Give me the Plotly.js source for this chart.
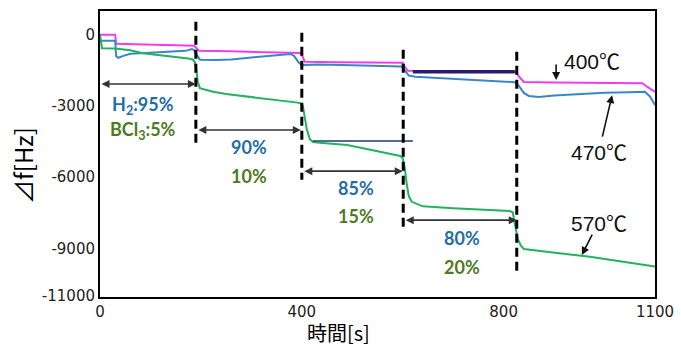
<!DOCTYPE html>
<html>
<head>
<meta charset="utf-8">
<script src="https://cdn.plot.ly/plotly-3.0.1.min.js"></script>
<style>html,body{margin:0;padding:0;background:#fff;}#chart{width:681px;height:347px;}</style>
</head>
<body>
<div id="chart"></div>
<script>
// ---- data ----
const t400 = [0, 30, 32, 60, 120, 187, 191, 196, 260, 330, 397, 401, 406, 470, 540, 600, 604, 610, 700, 780, 824, 830, 840, 900, 980, 1075, 1085, 1100];
const v400 = [0, 0, -380, -400, -430, -465, -560, -680, -700, -730, -770, -900, -1140, -1155, -1170, -1185, -1350, -1520, -1535, -1550, -1570, -1750, -1990, -2010, -2025, -2040, -2200, -2410];

const t470 = [0, 30, 32, 36, 45, 60, 90, 130, 170, 182, 186, 192, 198, 230, 260, 300, 350, 378, 385, 393, 400, 430, 480, 540, 598, 604, 612, 625, 680, 740, 800, 822, 830, 840, 850, 870, 900, 950, 1000, 1050, 1080, 1090, 1100];
const v470 = [-250, -250, -900, -970, -900, -800, -770, -740, -680, -600, -640, -850, -1050, -1065, -1040, -960, -870, -810, -900, -1150, -1280, -1250, -1280, -1310, -1340, -1500, -1720, -1770, -1830, -1900, -1970, -2000, -2150, -2450, -2580, -2620, -2560, -2490, -2440, -2420, -2400, -2600, -2960];

const t570 = [0, 4, 30, 60, 85, 130, 175, 184, 188, 191, 194, 198, 224, 250, 300, 350, 392, 398, 402, 406, 410, 416, 422, 435, 490, 555, 595, 600, 604, 608, 612, 618, 640, 700, 760, 812, 818, 822, 828, 834, 840, 906, 971, 1037, 1100];
const v570 = [0, -570, -580, -650, -780, -880, -1000, -1040, -1150, -1500, -2000, -2250, -2400, -2500, -2620, -2740, -2860, -2900, -3000, -3500, -4000, -4400, -4520, -4550, -4650, -4930, -5110, -5200, -5600, -6300, -6800, -7040, -7230, -7310, -7370, -7430, -7480, -7900, -8600, -8880, -9030, -9200, -9355, -9565, -9770];

// dashed boundaries between gas-ratio stages
const stageTimes = [190, 400, 601, 826];
const stageTop = [550, 80, -630, -720];
const stageBottom = [-4640, -6110, -8150, -10120];

// stage arrows (double headed)
const stageStart = [0, 192, 402, 603];
const stageEnd = [190, 398, 600, 826];
const stageArrowV = [-2078, -4016, -5748, -7813];

// stage text labels
const h2Labels = ['H<sub>2</sub>:95%', '90%', '85%', '80%'];
const bcl3Labels = ['BCl<sub>3</sub>:5%', '10%', '15%', '20%'];
const labelT = [86, 295, 507, 717];
const h2LabelV = [-3000, -4730, -6460, -8570];
const bclLabelV = [-4050, -5950, -7640, -9790];

// extra horizontal marks
const markT = [[422, 620], [620, 822]];
const markV = [[-4480, -4480], [-1560, -1560]];

// temperature labels
const tempLabels = ['400℃', '470℃', '570℃'];
const tempLabelT = [975, 989, 989];
const tempLabelV = [-1108, -4943, -7935];
const tempTipT = [904, 1015, 955];
const tempTipV = [-1909, -2545, -9283];
const tempTailT = [904, 995, 977];
const tempTailV = [-1193, -4357, -8356];

// axis ticks and titles
const xTicks = [0, 400, 800, 1100];
const yTicks = [0, -3000, -6000, -9000, -11000];
const xTitle = '時間[s]';
const yTitle = '⊿f[Hz]';

// ---- build ----
const traces = [
  {x: t400, y: v400, mode: 'lines', line: {color: '#f03cf0', width: 2}, hoverinfo: 'skip'},
  {x: t470, y: v470, mode: 'lines', line: {color: '#3a87c8', width: 2}, hoverinfo: 'skip'},
  {x: t570, y: v570, mode: 'lines', line: {color: '#22b35e', width: 2}, hoverinfo: 'skip'}
];
markT.forEach((mt, i) => {
  traces.push({x: mt, y: markV[i], mode: 'lines', line: {color: i === 0 ? '#1f3a6a' : '#2a1a70', width: i === 0 ? 1.5 : 3.5}, hoverinfo: 'skip'});
});

const shapes = stageTimes.map((st, i) => ({
  type: 'line', xref: 'x', yref: 'y', x0: st, x1: st, y0: stageTop[i], y1: stageBottom[i],
  line: {color: '#000', width: 3, dash: '9px,5px'}
}));

const annotations = [];
stageStart.forEach((s, i) => {
  annotations.push({x: stageEnd[i], y: stageArrowV[i], ax: s, ay: stageArrowV[i], xref: 'x', yref: 'y', axref: 'x', ayref: 'y',
    text: '', showarrow: true, arrowhead: 2, startarrowhead: 2, arrowside: 'end+start', arrowsize: 1, startarrowsize: 1,
    arrowwidth: 1.6, arrowcolor: '#333', standoff: 0, startstandoff: 0});
  annotations.push({x: labelT[i], y: h2LabelV[i], xref: 'x', yref: 'y', text: '<b>' + h2Labels[i] + '</b>', showarrow: false,
    font: {family: 'Lato, "Open Sans", sans-serif', size: 18, color: '#1f6ea6'}});
  annotations.push({x: labelT[i], y: bclLabelV[i], xref: 'x', yref: 'y', text: '<b>' + bcl3Labels[i] + '</b>', showarrow: false,
    font: {family: 'Lato, "Open Sans", sans-serif', size: 18, color: '#4f7a1f'}});
});
tempLabels.forEach((lab, i) => {
  annotations.push({x: tempLabelT[i], y: tempLabelV[i], xref: 'x', yref: 'y', text: lab, showarrow: false,
    font: {family: '"Liberation Sans", Arial, "Noto Sans CJK JP", sans-serif', size: 21, color: '#111'}});
  annotations.push({x: tempTipT[i], y: tempTipV[i], ax: tempTailT[i], ay: tempTailV[i], xref: 'x', yref: 'y', axref: 'x', ayref: 'y',
    text: '', showarrow: true, arrowhead: 2, arrowsize: 1, arrowwidth: 1.6, arrowcolor: '#111', standoff: 0});
});
// axis titles placed as in the reference (x title sits left of centre)
annotations.push({xref: 'paper', yref: 'paper', x: 0.43, y: -0.18, xanchor: 'center', yanchor: 'bottom', text: xTitle, showarrow: false,
  borderpad: 0, font: {family: '"Noto Sans CJK JP", sans-serif', size: 20, color: '#000'}});
annotations.push({xref: 'paper', yref: 'paper', x: -0.1405, y: 0.458, xanchor: 'center', yanchor: 'middle', text: yTitle, showarrow: false, textangle: -90,
  font: {family: '"Noto Sans CJK JP", sans-serif', size: 24, color: '#000'}});

const layout = {
  width: 681, height: 347,
  margin: {l: 100, r: 26, t: 11, b: 50},
  paper_bgcolor: '#fff', plot_bgcolor: '#fff',
  showlegend: false,
  xaxis: {range: [0, 1100], tickvals: xTicks, ticktext: xTicks.map(String), showgrid: false, zeroline: false,
    showline: true, mirror: true, linecolor: '#000', linewidth: 2, ticks: '',
    tickfont: {family: '"DejaVu Sans", sans-serif', size: 15, color: '#222'}},
  yaxis: {range: [-11050, 1000], tickvals: yTicks, ticktext: yTicks.map(String), showgrid: false, zeroline: false,
    showline: true, mirror: true, linecolor: '#000', linewidth: 2, ticks: '',
    tickfont: {family: '"DejaVu Sans", sans-serif', size: 15, color: '#222'}},
  shapes: shapes,
  annotations: annotations
};

Plotly.newPlot('chart', traces, layout, {displayModeBar: false, staticPlot: true});
</script>
</body>
</html>
